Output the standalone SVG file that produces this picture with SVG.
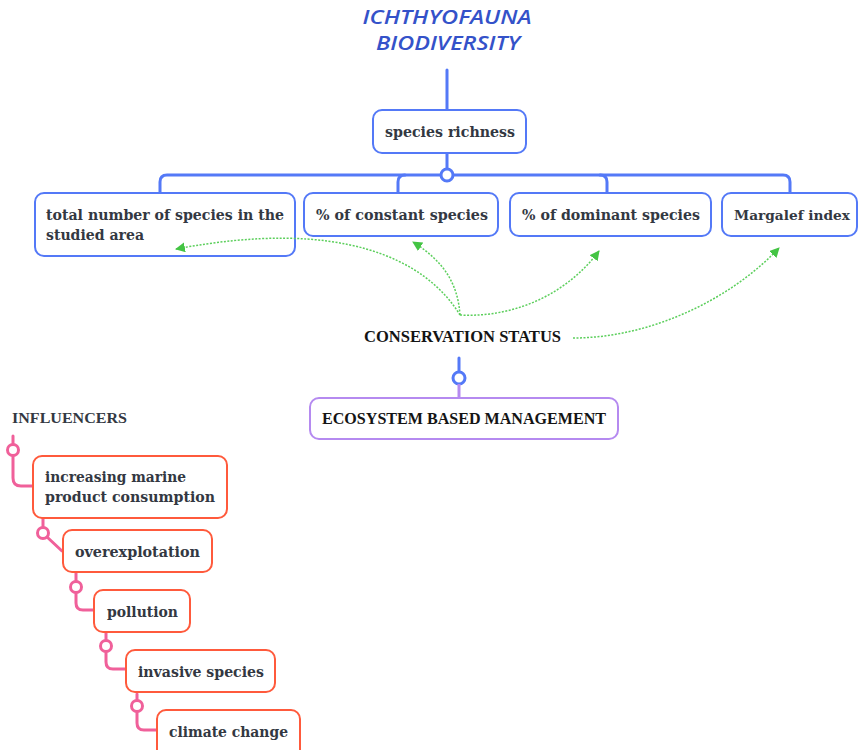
<svg xmlns="http://www.w3.org/2000/svg" width="859" height="750" viewBox="0 0 859 750">
<defs>
<style>
.bn{fill:#fff;stroke:#5479f7;stroke-width:2}
.pn{fill:#fff;stroke:#b58af0;stroke-width:2}
.rn{fill:#fff;stroke:#ff5a3c;stroke-width:2}
.t{font-family:"DejaVu Serif","Liberation Serif",serif;font-weight:bold;font-size:15px;fill:#333842}
.cap{font-family:"Liberation Serif","DejaVu Serif",serif;font-weight:bold;font-size:16px;fill:#141414}
.title{font-family:"Open Sans","Liberation Sans",sans-serif;font-style:italic;font-weight:600;font-size:20px;fill:#3452c9}
.bl{fill:none;stroke:#5479f7;stroke-width:3;stroke-linecap:round}
.pl{fill:none;stroke:#f0609a;stroke-width:3;stroke-linecap:round}
.gl{fill:none;stroke:#5ccf5c;stroke-width:1.5;stroke-dasharray:2 1.5}
</style>
<marker id="ga" viewBox="0 0 10 10" refX="9" refY="5" markerWidth="10" markerHeight="10" markerUnits="userSpaceOnUse" orient="auto">
<path d="M0,0 L10,5 L0,10 z" fill="#44c444"/>
</marker>
</defs>
<rect width="859" height="750" fill="#fff"/>

<g id="connectors">
<line class="bl" x1="447" y1="70" x2="447" y2="109"/>
<line class="bl" x1="447" y1="153" x2="447" y2="169"/>
<path class="bl" d="M160,192 V182 Q160,175 167,175 H783 Q790,175 790,182 V192"/>
<path class="bl" d="M398,192 V182 Q398,175 405,175"/>
<path class="bl" d="M607,192 V182 Q607,175 600,175"/>
<circle cx="447" cy="175" r="6" fill="#fff" stroke="#5479f7" stroke-width="3"/>
<line class="bl" x1="459" y1="358" x2="459" y2="372"/>
<circle cx="459" cy="378" r="6" fill="#fff" stroke="#5479f7" stroke-width="3"/>
<line x1="459" y1="384" x2="459" y2="397" stroke="#b58af0" stroke-width="3"/>

<path class="pl" d="M13,436 V444"/>
<circle cx="13" cy="450" r="5.5" fill="#fff" stroke="#f0609a" stroke-width="3"/>
<path class="pl" d="M13,456 V478 Q13,486 21,486 H32"/>
<path class="pl" d="M43,519 V527"/>
<circle cx="43" cy="533" r="5.5" fill="#fff" stroke="#f0609a" stroke-width="3"/>
<path class="pl" d="M47,537 L62,551"/>
<path class="pl" d="M76,573 V581"/>
<circle cx="76" cy="587" r="5.5" fill="#fff" stroke="#f0609a" stroke-width="3"/>
<path class="pl" d="M76,593 V603 Q76,610 83,610 H93"/>
<path class="pl" d="M106,633 V640"/>
<circle cx="106" cy="646" r="5.5" fill="#fff" stroke="#f0609a" stroke-width="3"/>
<path class="pl" d="M106,652 V662 Q106,669 113,669 H125"/>
<path class="pl" d="M137,694 V700"/>
<circle cx="137" cy="706" r="5.5" fill="#fff" stroke="#f0609a" stroke-width="3"/>
<path class="pl" d="M137,712 V723 Q137,730 144,730 H156"/>
</g>

<g id="title">
<text class="title" x="447" y="24" text-anchor="middle" textLength="169" lengthAdjust="spacingAndGlyphs">ICHTHYOFAUNA</text>
<text class="title" x="448" y="50" text-anchor="middle" textLength="144" lengthAdjust="spacingAndGlyphs">BIODIVERSITY</text>
</g>

<g id="species-richness">
<rect class="bn" x="373" y="110" width="153" height="43" rx="9"/>
<text class="t" x="385" y="137" textLength="130" lengthAdjust="spacingAndGlyphs">species richness</text>
</g>
<g id="total-number">
<rect class="bn" x="35" y="193" width="260" height="63" rx="9"/>
<text class="t" x="46" y="220" textLength="238" lengthAdjust="spacingAndGlyphs">total number of species in the</text>
<text class="t" x="46" y="240" textLength="98" lengthAdjust="spacingAndGlyphs">studied area</text>
</g>
<g id="constant-species">
<rect class="bn" x="304" y="193" width="194" height="43" rx="9"/>
<text class="t" x="316" y="220" textLength="172" lengthAdjust="spacingAndGlyphs">% of constant species</text>
</g>
<g id="dominant-species">
<rect class="bn" x="510" y="193" width="201" height="43" rx="9"/>
<text class="t" x="522" y="220" textLength="178" lengthAdjust="spacingAndGlyphs">% of dominant species</text>
</g>
<g id="margalef">
<rect class="bn" x="722" y="193" width="135" height="43" rx="9"/>
<text class="t" x="734" y="220" style="font-size:13.5px" textLength="116" lengthAdjust="spacingAndGlyphs">Margalef index</text>
</g>

<g id="conservation-status">
<text class="cap" x="364" y="342" textLength="197" lengthAdjust="spacingAndGlyphs">CONSERVATION STATUS</text>
</g>
<g id="ecosystem">
<rect class="pn" x="310" y="398" width="308" height="41" rx="9"/>
<text class="cap" x="322" y="424" textLength="284" lengthAdjust="spacingAndGlyphs">ECOSYSTEM BASED MANAGEMENT</text>
</g>

<g id="influencers">
<text class="cap" x="12" y="423" style="font-size:15px;fill:#333842" textLength="115" lengthAdjust="spacingAndGlyphs">INFLUENCERS</text>
</g>
<g id="consumption">
<rect class="rn" x="33" y="456" width="194" height="62" rx="9"/>
<text class="t" x="45" y="482" textLength="141" lengthAdjust="spacingAndGlyphs">increasing marine</text>
<text class="t" x="45" y="502" textLength="170" lengthAdjust="spacingAndGlyphs">product consumption</text>
</g>
<g id="overexploitation">
<rect class="rn" x="63" y="530" width="149" height="42" rx="9"/>
<text class="t" x="75" y="557" textLength="125" lengthAdjust="spacingAndGlyphs">overexplotation</text>
</g>
<g id="pollution">
<rect class="rn" x="94" y="590" width="96" height="42" rx="9"/>
<text class="t" x="107" y="617" textLength="71" lengthAdjust="spacingAndGlyphs">pollution</text>
</g>
<g id="invasive">
<rect class="rn" x="126" y="650" width="149" height="42" rx="9"/>
<text class="t" x="138" y="677" textLength="126" lengthAdjust="spacingAndGlyphs">invasive species</text>
</g>
<g id="climate">
<rect class="rn" x="157" y="710" width="143" height="48" rx="9"/>
<text class="t" x="169" y="737" textLength="119" lengthAdjust="spacingAndGlyphs">climate change</text>
</g>

<g id="relations">
<path class="gl" marker-end="url(#ga)" d="M460,315 C425,258 340,218 176,249"/>
<path class="gl" marker-end="url(#ga)" d="M460,315 C458,285 445,262 413,242"/>
<path class="gl" marker-end="url(#ga)" d="M460,315 C520,318 570,290 599,251"/>
<path class="gl" marker-end="url(#ga)" d="M573,338 C650,338 730,300 779,248"/>
</g>
</svg>
